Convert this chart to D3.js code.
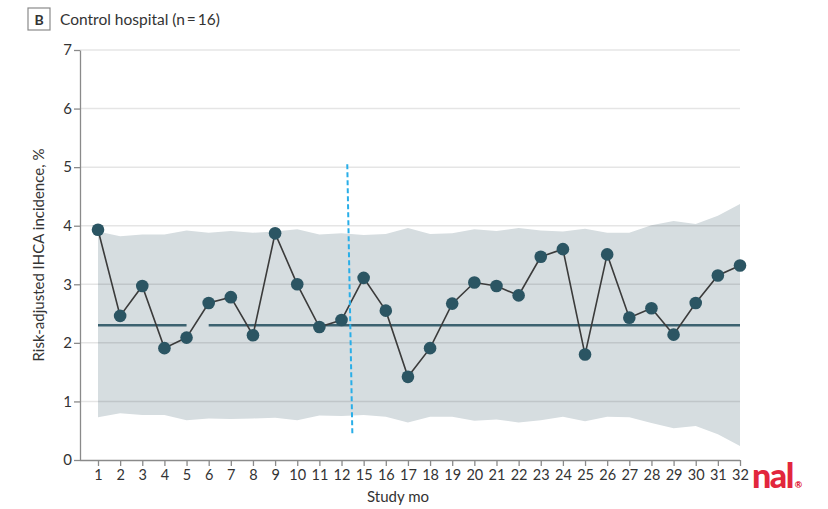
<!DOCTYPE html>
<html>
<head>
<meta charset="utf-8">
<script src="https://cdn.jsdelivr.net/npm/d3@7"></script>
<style>
  html, body { margin: 0; padding: 0; background: #fff; }
  svg { display: block; font-family: Lato, "Open Sans", sans-serif; }
</style>
</head>
<body>
<svg id="chart" width="828" height="509"></svg>
<script>
// ---- data ----
const months = ["1","2","3","4","5","6","7","8","9","10","11","12","15","16","17","18","19","20","21","22","23","24","25","26","27","28","29","30","31","32"];
const incidence = [3.93,2.46,2.97,1.91,2.09,2.68,2.78,2.13,3.87,3.00,2.27,2.39,3.11,2.55,1.42,1.91,2.67,3.03,2.97,2.81,3.47,3.60,1.80,3.51,2.43,2.59,2.14,2.68,3.15,3.32];
const upperLimit = [3.90,3.82,3.85,3.85,3.92,3.88,3.91,3.88,3.90,3.94,3.85,3.87,3.84,3.86,3.96,3.86,3.87,3.94,3.91,3.96,3.92,3.90,3.95,3.88,3.88,4.01,4.08,4.03,4.17,4.37];
const lowerLimit = [0.73,0.80,0.77,0.77,0.68,0.71,0.70,0.71,0.72,0.68,0.76,0.75,0.77,0.74,0.64,0.74,0.74,0.67,0.69,0.64,0.68,0.74,0.66,0.74,0.73,0.63,0.54,0.58,0.44,0.24];
const meanValue = 2.3;
const meanSegments = [["1","5"],["6","32"]];
const yTicks = [0,1,2,3,4,5,6,7];
const interventionTop = 5.05, interventionBottom = 0.43;
const interventionPos = [11.26, 11.49]; // index position between month 12 and 15 (top, bottom)
const titleLetter = "B";
const titleText = "Control hospital (n\u2009=\u200916)";
const yLabel = "Risk-adjusted IHCA incidence, %";
const xLabel = "Study mo";

// ---- layout ----
const svg = d3.select("#chart");
const axisX = 80, plotRight = 740, plotTop = 50, plotBottom = 460;
const x = d3.scalePoint().domain(months).range([98, 740]);
const y = d3.scaleLinear().domain([0, 7]).range([plotBottom, plotTop]);
const xIdx = d3.scaleLinear().domain([0, months.length - 1]).range([98, 740]);

const data = months.map((m, i) => ({ m, v: incidence[i], hi: upperLimit[i], lo: lowerLimit[i] }));

// band
svg.append("path")
  .datum(data)
  .attr("fill", "#d6dde0")
  .attr("d", d3.area().x(d => x(d.m)).y0(d => y(d.lo)).y1(d => y(d.hi)));

// gridlines
svg.append("g").selectAll("line")
  .data(yTicks.filter(t => t > 0))
  .join("line")
  .attr("x1", axisX).attr("x2", plotRight)
  .attr("y1", d => y(d)).attr("y2", d => y(d))
  .attr("stroke", "#000").attr("stroke-opacity", 0.1).attr("stroke-width", 1.5);

// mean line segments
svg.append("g").selectAll("line")
  .data(meanSegments)
  .join("line")
  .attr("x1", d => x(d[0])).attr("x2", d => x(d[1]))
  .attr("y1", y(meanValue)).attr("y2", y(meanValue))
  .attr("stroke", "#3c6270").attr("stroke-width", 2.5);

// series line
svg.append("path")
  .datum(data)
  .attr("fill", "none")
  .attr("stroke", "#3b3b3b")
  .attr("stroke-width", 1.6)
  .attr("d", d3.line().x(d => x(d.m)).y(d => y(d.v)));

// points
svg.append("g").selectAll("circle")
  .data(data)
  .join("circle")
  .attr("cx", d => x(d.m)).attr("cy", d => y(d.v))
  .attr("r", 6.3)
  .attr("fill", "#2b5563");

// intervention dashed line
svg.append("line")
  .attr("x1", xIdx(interventionPos[0])).attr("x2", xIdx(interventionPos[1]))
  .attr("y1", y(interventionTop)).attr("y2", y(interventionBottom))
  .attr("stroke", "#29aee8").attr("stroke-width", 2)
  .attr("stroke-dasharray", "5,3");

// y axis
const yAxis = svg.append("g")
  .attr("transform", `translate(${axisX},0)`)
  .call(d3.axisLeft(y).tickValues(yTicks).tickSize(6).tickSizeOuter(0).tickFormat(d3.format("d")));
yAxis.select(".domain").attr("stroke", "#8a8a8a").attr("stroke-width", 1.3);
yAxis.selectAll(".tick line").attr("stroke", "#8a8a8a").attr("stroke-width", 1.3);
yAxis.selectAll(".tick text").attr("font-size", 15).attr("fill", "#333").attr("x", -8)
  .attr("font-family", "Lato, sans-serif");

// x axis
const xAxis = svg.append("g")
  .attr("transform", `translate(0,${plotBottom})`)
  .call(d3.axisBottom(x).tickSize(6).tickSizeOuter(0));
xAxis.select(".domain").attr("d", `M${axisX},0.5H${plotRight}`).attr("stroke", "#8a8a8a").attr("stroke-width", 1.3);
xAxis.selectAll(".tick line").attr("stroke", "#8a8a8a").attr("stroke-width", 1.3);
xAxis.selectAll(".tick text").attr("font-size", 14.5).attr("fill", "#333").attr("y", 10)
  .attr("font-family", "Lato, sans-serif");

// axis labels
svg.append("text")
  .attr("transform", `translate(44,255) rotate(-90)`)
  .attr("text-anchor", "middle")
  .attr("font-size", 15).attr("fill", "#333")
  .text(yLabel);
svg.append("text")
  .attr("x", 398).attr("y", 502)
  .attr("text-anchor", "middle")
  .attr("font-size", 15).attr("fill", "#333")
  .text(xLabel);

// title
svg.append("rect")
  .attr("x", 28).attr("y", 8).attr("width", 22).attr("height", 22)
  .attr("fill", "#fff").attr("stroke", "#8a8a8a").attr("stroke-width", 1.2);
svg.append("text")
  .attr("x", 39).attr("y", 24.5).attr("text-anchor", "middle")
  .attr("font-size", 14).attr("font-weight", "bold").attr("fill", "#333")
  .text(titleLetter);
svg.append("text")
  .attr("x", 60).attr("y", 25)
  .attr("font-size", 15.5).attr("fill", "#333")
  .text(titleText);

// watermark fragment
const wm = svg.append("text")
  .attr("x", 752).attr("y", 488)
  .attr("font-size", 34).attr("font-weight", 900).attr("fill", "#e2263d")
  .attr("font-family", "Lato, sans-serif")
  .attr("letter-spacing", -1.5);
wm.append("tspan").text("nal");
wm.append("tspan").attr("font-size", 9).attr("dx", 2).text("\u00ae");
</script>
</body>
</html>
